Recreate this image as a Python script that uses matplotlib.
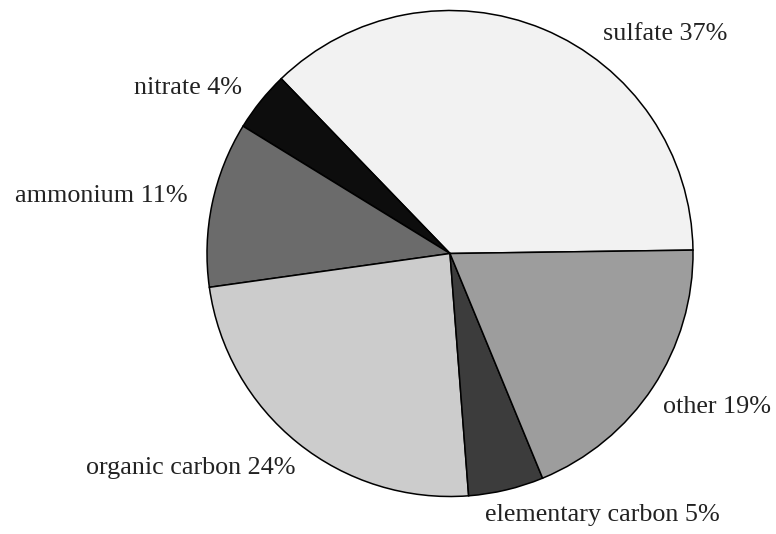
import matplotlib.pyplot as plt

# aerosol composition by mass
components = ["sulfate", "nitrate", "ammonium", "organic carbon",
              "elementary carbon", "other"]
shares = [37, 4, 11, 24, 5, 19]
greys = ["#f2f2f2", "#0d0d0d", "#6b6b6b", "#cccccc", "#3c3c3c", "#9d9d9d"]

# label anchors in pixels from the top-left corner, with horizontal alignment
label_xy = [(603, 34), (242, 88), (188, 196), (295, 468), (485, 515), (663, 407)]
label_ha = ["left", "right", "right", "right", "left", "left"]


def plot_pie():
    fig = plt.figure(figsize=(7.76, 5.34), dpi=100)
    ax = fig.add_axes([0, 0, 1, 1])

    labels = ["%s %d%%" % (c, s) for c, s in zip(components, shares)]
    wedges, texts = ax.pie(shares, labels=labels, colors=greys,
                           startangle=0.8, counterclock=True,
                           center=(450, 280.5), radius=243,
                           frame=True,
                           wedgeprops=dict(edgecolor="black", linewidth=1.1),
                           textprops=dict(family="Liberation Serif",
                                          fontsize=18.8, color="#222222"))
    for t, (x, y), ha in zip(texts, label_xy, label_ha):
        t.set_position((x, 534 - y))
        t.set_ha(ha)
        t.set_va("center")

    ax.set_xlim(0, 776)
    ax.set_ylim(0, 534)
    ax.set_aspect("equal")
    ax.axis("off")
    fig.savefig("out.png", dpi=100)


def main():
    plot_pie()


if __name__ == '__main__':
    main()
